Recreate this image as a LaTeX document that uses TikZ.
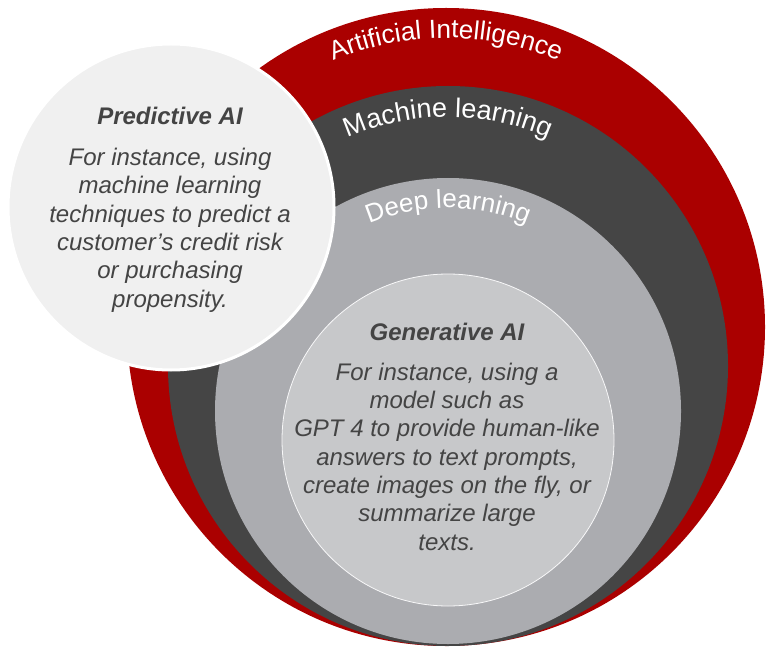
\documentclass[tikz,border=0pt]{standalone}
\usepackage{fontspec}
\setmainfont{Liberation Sans}
\usetikzlibrary{decorations.text}
\definecolor{aiRed}{HTML}{AA0000}
\definecolor{mlGrey}{HTML}{454545}
\definecolor{dlGrey}{HTML}{ABACB0}
\definecolor{genGrey}{HTML}{C7C8CA}
\definecolor{predGrey}{HTML}{F0F0F0}
\definecolor{txtGrey}{HTML}{444444}
\tikzstyle{field} = [circle, inner sep=0pt, draw=none]
\tikzstyle{ringLabel} = [decorate, decoration={text along path, text align=center, text color=white}]
\tikzstyle{headText} = [text=txtGrey, inner sep=0pt,
   font=\fontsize{24}{28.3}\selectfont\bfseries\itshape]
\tikzstyle{bodyText} = [text=txtGrey, inner sep=0pt, align=center,
   font=\fontsize{24}{28.3}\selectfont\itshape]

\begin{document}
\begin{tikzpicture}[x=1pt,y=1pt]
    \useasboundingbox (0,0) rectangle (767,646);
    % nested fields
    \node[field, fill=aiRed, minimum size=638] (ai) at (446,319) {};
    \node[field, fill=mlGrey, minimum size=560] (ml) at (448,280) {};
    \node[field, fill=dlGrey, minimum size=466] (dl) at (448,235) {};
    \node[field, fill=genGrey, draw=white!88!genGrey, line width=0.8pt, minimum size=332] (gen) at (448,206) {};
    \node[field, fill=predGrey, draw=white, line width=3pt, minimum size=326] (pred) at (171,439) {};
    % curved labels
    \path[ringLabel, decoration={text={|\fontsize{26.2}{26.2}\selectfont|Artificial Intelligence}}]
      (ai.center) ++(150:289) arc[start angle=150, end angle=30, radius=289];
    \path[ringLabel, decoration={text={|\fontsize{27}{27}\selectfont|Machine learning}}]
      (ml.center) ++(150:249) arc[start angle=150, end angle=30, radius=249];
    \path[ringLabel, decoration={text={|\fontsize{26}{26}\selectfont|Deep learning}}]
      (dl.center) ++(150:203) arc[start angle=150, end angle=30, radius=203];
    % texts (base = last line)
    \node[headText, anchor=base] (predHead) at (170,521) {Predictive AI};
    \node[bodyText, anchor=base] (predBody) at (170,339) {For instance, using\\machine learning\\techniques to predict a\\customer’s credit risk\\or purchasing\\propensity.};
    \node[headText, anchor=base] (genHead) at (447,306) {Generative AI};
    \node[bodyText, anchor=base] (genBody) at (447,96) {For instance, using a\\model such as\\GPT 4 to provide human-like\\answers to text prompts,\\create images on the fly, or\\summarize large\\texts.};
\end{tikzpicture}
\end{document}
